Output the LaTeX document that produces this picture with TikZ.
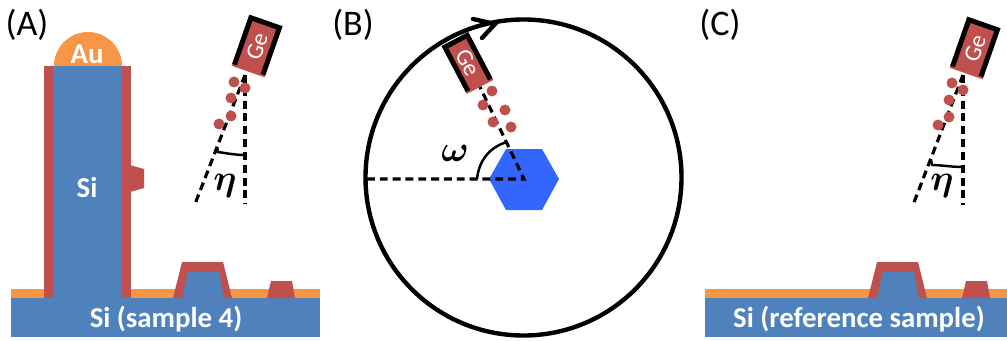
\documentclass[tikz,border=0pt]{standalone}
\usepackage{fontspec}
\setmainfont{Carlito}
\definecolor{gered}{HTML}{C0504D}
\definecolor{siblue}{HTML}{4F81BD}
\definecolor{auorange}{HTML}{F79646}
\definecolor{hexblue}{HTML}{3366FF}
\begin{document}
\begin{tikzpicture}[
    x=0.02cm, y=-0.02cm,
    panel/.style={font=\fontsize{20.5}{22}\selectfont, text=black},
    whitelbl/.style={font=\fontsize{16.4}{18}\selectfont\bfseries, text=white},
    gelbl/.style={font=\fontsize{13.5}{15}\selectfont, text=white, inner sep=0pt},
    angle/.style={font=\fontsize{20}{22}\selectfont\boldmath},
    beam/.style={line width=1.8pt, dash pattern=on 4.5pt off 2.8pt},
    mark line/.style={line width=1.4pt}
]
\useasboundingbox (0,0) rectangle (1007,341);
% substrates
\foreach \sx/\ex/\ox/\cx/\lbl/\nm in {%
    11/320/0/166/{Si (sample 4)}/A,
    705/1007/695/859/{Si (reference sample)}/C%
} {
    \fill[auorange] (\sx,289) rectangle (\ex,298);
    \fill[siblue] (\sx,298) rectangle (\ex,337);
    \fill[gered] (\ox+173,298) -- (\ox+182,262) -- (\ox+223,262) -- (\ox+232,298) -- cycle;
    \fill[siblue] (\ox+182,298) -- (\ox+188,272) -- (\ox+219,272) -- (\ox+224,298) -- cycle;
    \fill[gered] (\ox+267,298) -- (\ox+271,281) -- (\ox+292,281) -- (\ox+295,298) -- cycle;
    \node[whitelbl] (sub\nm) at (\cx,319) {\lbl};
}
% pillar
\fill[gered] (43.5,66) rectangle (130.5,298);
\fill[siblue] (53,66) rectangle (122,298);
\fill[gered] (130,165) -- (144,169) -- (144,188) -- (130,192) -- cycle;
\fill[auorange] (54,66) arc[start angle=180, end angle=360, radius=34];
\node[whitelbl] (au) at (87,54) {Au};
\node[whitelbl] (pillar) at (87,187) {Si};
% panel letters
\node[panel] (lblA) at (27,25) {(A)};
\node[panel] (lblB) at (353,25) {(B)};
\node[panel] (lblC) at (720,25) {(C)};
% circle and hexagon
\draw[line width=2.5pt] (523.5,177.5) circle[radius=158];
\fill[hexblue] (489,179) -- (506,149) -- (542,149) -- (559,179) -- (542,210) -- (506,210) -- cycle;
% beams
\coordinate (apexA) at (245,75);
\coordinate (vertA) at (245,204);
\coordinate (slantA) at (195,204);
\coordinate (apexC) at (963,75);
\coordinate (vertC) at (963,205);
\coordinate (slantC) at (913,205);
\coordinate (hexc) at (524,179);
\coordinate (rimB) at (367,179);
\coordinate (apexB) at (480,87);
\draw[beam] (apexA) -- (vertA);
\draw[beam] (apexA) -- (slantA);
\draw[beam] (apexC) -- (vertC);
\draw[beam] (apexC) -- (slantC);
\draw[beam] (rimB) -- (hexc) -- (apexB);
% sources
\foreach \gx/\gy/\gang/\hw/\txt/\nm in {%
    257/46/-19.3/17.5/70.7/A,
    467.5/63/27.7/15/-62.3/B,
    975/48/-19.3/17.5/70.7/C%
} {
    \begin{scope}[shift={(\gx,\gy)}, rotate=\gang]
        \fill[gered] (-\hw,-27) rectangle (\hw,27);
        \draw[line width=2.8pt] (-\hw+2.4,25) -- (-\hw+2.4,-24.6) -- (\hw-2.4,-24.6) -- (\hw-2.4,25);
    \end{scope}
    \node[gelbl, rotate=\txt] (ge\nm) at (\gx,\gy) {Ge};
}
% particles
\foreach \px/\py in {234/82, 245/88, 231/98, 231/116, 219/124,
    492/91, 483/105, 505/110, 493/122, 511/127,
    952/83, 963/90, 949/100, 949/117, 938/125} {
    \fill[gered] (\px,\py) circle[radius=5.5];
}
% angle marks
\coordinate (etaAl) at (217,147);
\coordinate (etaAr) at (245,155);
\coordinate (etaCl) at (931,160);
\coordinate (etaCr) at (963,167);
\coordinate (omegaS) at (477,179);
\coordinate (omegaE) at (507,142);
\draw[mark line] (etaAl) -- ++(1,5) .. controls (225,153) and (235,155) .. (etaAr);
\draw[mark line] (etaCl) -- ++(1,5) .. controls (940,165) and (952,167) .. (etaCr);
\draw[mark line] (omegaS) .. controls (479,160) and (490,147) .. (omegaE);
\node[angle] (etaA) at (225,186) {$\eta$};
\node[angle] (etaC) at (942,186) {$\eta$};
\node[angle] (omega) at (455,153) {$\omega$};
% rotation arrow
\coordinate (tip) at (495,24);
\coordinate (barbU) at (473,19);
\coordinate (barbL) at (482,38);
\draw[line width=2.5pt, line cap=round] (barbU) -- (tip) -- (barbL);
\end{tikzpicture}
\end{document}
